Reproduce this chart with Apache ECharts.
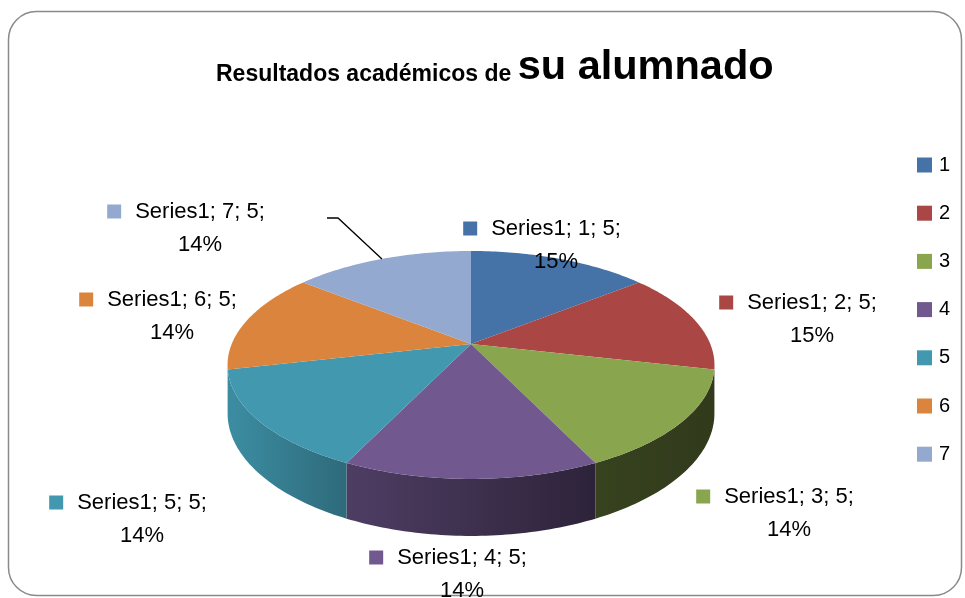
<!DOCTYPE html>
<html>
<head>
<meta charset="utf-8">
<script src="https://cdn.jsdelivr.net/npm/echarts@6/dist/echarts.min.js"></script>
<style>
    html, body { margin: 0; padding: 0; background: #fff; }
    #main { width: 965px; height: 598px; }
</style>
</head>
<body>
<div id="main"></div>
<script>
// datos del grafico
var seriesName = 'Series1';
var categories = ['1', '2', '3', '4', '5', '6', '7'];
var values = [5, 5, 5, 5, 5, 5, 5];
var pctLabels = ['15%', '15%', '14%', '14%', '14%', '14%', '14%'];
var colors = ['#4572A7', '#AA4643', '#89A54E', '#71588F', '#4198AF', '#DB843D', '#93A9CF'];

(function () {
    var FONT = 'Liberation Sans';
    // tarta 3D: centro, radios, perspectiva, grosor
    var PIE = { cx: 471, cy: 344, a: 239.3, b: 110.1, u: 0.184, t: 46.5 };
    // posicion de las etiquetas (centro del bloque)
    var labelPos = [[542, 245], [798, 319], [775, 513], [448, 574], [128, 519], [158, 316], [186, 228]];
    var leaders = { 6: [[338, 218], [327, 218]] };

    var total = 0;
    for (var i = 0; i < values.length; i++) total += values[i];

    function startAngle(idx) {
        var s = 0;
        for (var k = 0; k < idx; k++) s += values[k];
        return s / total * 360;
    }

    function proj(deg, down) {
        var r = deg * Math.PI / 180;
        var d = 1 + PIE.u * Math.cos(r);
        return [PIE.cx + PIE.a * Math.sin(r) / d, PIE.cy - PIE.b * Math.cos(r) / d + (down ? PIE.t / d : 0)];
    }

    function rim(a0, a1, down) {
        var pts = [];
        var n = Math.max(2, Math.ceil(Math.abs(a1 - a0)));
        for (var k = 0; k <= n; k++) pts.push(proj(a0 + (a1 - a0) * k / n, down));
        return pts;
    }

    function shade(hex, f) {
        var r = parseInt(hex.slice(1, 3), 16), g = parseInt(hex.slice(3, 5), 16), b = parseInt(hex.slice(5, 7), 16);
        return 'rgb(' + Math.round(r * f) + ',' + Math.round(g * f) + ',' + Math.round(b * f) + ')';
    }

    var silo = Math.acos(-PIE.u) * 180 / Math.PI;
    var sihi = 360 - silo;

    function renderSlice(idx) {
        return function (params, api) {
            var a0 = startAngle(idx);
            var a1 = a0 + values[idx] / total * 360;
            var color = colors[idx];
            var children = [];

            // lateral
            var lo = Math.max(a0, silo), hi = Math.min(a1, sihi);
            if (hi > lo) {
                var side = rim(lo, hi, false).concat(rim(hi, lo, true));
                children.push({
                    type: 'polygon',
                    z2: 1,
                    shape: { points: side },
                    style: {
                        fill: new echarts.graphic.LinearGradient(PIE.cx - PIE.a, 0, PIE.cx + PIE.a, 0, [
                            { offset: 0, color: shade(color, 0.92) },
                            { offset: 0.25, color: shade(color, 0.69) },
                            { offset: 0.76, color: shade(color, 0.4) },
                            { offset: 1, color: shade(color, 0.36) }
                        ], true)
                    }
                });
            }

            // cara superior
            var top = [[PIE.cx, PIE.cy]].concat(rim(a0, a1, false));
            children.push({
                type: 'polygon',
                z2: 2,
                shape: { points: top },
                style: { fill: color }
            });

            // etiqueta
            var pos = labelPos[idx];
            var line1 = seriesName + '; ' + categories[idx] + '; ' + values[idx] + ';';
            children.push({
                type: 'text',
                z2: 50,
                x: pos[0],
                y: pos[1],
                style: {
                    text: '{sq|}{sp|}{t|' + line1 + '}\n{pad|}{t|' + pctLabels[idx] + '}',
                    align: 'center',
                    verticalAlign: 'middle',
                    fill: '#000',
                    fontSize: 22,
                    fontFamily: FONT,
                    rich: {
                        sq: { width: 14, height: 14, backgroundColor: color, lineHeight: 33 },
                        sp: { width: 14, lineHeight: 33 },
                        pad: { width: 28, lineHeight: 33 },
                        t: { fontSize: 22, fontFamily: FONT, fill: '#000', lineHeight: 33 }
                    }
                }
            });

            // linea guia
            if (leaders[idx]) {
                var mid = proj((a0 + a1) / 2, false);
                children.push({
                    type: 'polyline',
                    z2: 40,
                    shape: { points: [mid].concat(leaders[idx]) },
                    style: { stroke: '#000', lineWidth: 1.3, fill: null }
                });
            }

            return { type: 'group', children: children };
        };
    }

    var myChart = echarts.init(document.getElementById('main'));

    var series = [];
    for (var s = 0; s < categories.length; s++) {
        series.push({
            name: categories[s],
            type: 'custom',
            coordinateSystem: 'none',
            itemStyle: { color: colors[s] },
            data: [values[s]],
            renderItem: renderSlice(s)
        });
    }

    var option = {
        animation: false,
        color: colors,
        title: {
            text: '{a|Resultados académicos de }{b|su alumnado}',
            left: 216,
            top: 47,
            padding: 0,
            textStyle: {
                rich: {
                    a: { fontSize: 23, fontWeight: 'bold', fontFamily: FONT, color: '#000', padding: [14, 0, 0, 0] },
                    b: { fontSize: 41.5, fontWeight: 'bold', fontFamily: FONT, color: '#000' }
                }
            }
        },
        legend: {
            orient: 'vertical',
            left: 917,
            top: 155,
            padding: 0,
            itemWidth: 15,
            itemHeight: 15,
            itemGap: 28.2,
            icon: 'rect',
            data: categories,
            textStyle: { fontSize: 20, fontFamily: FONT, color: '#000', padding: [0, 0, 0, 2] }
        },
        graphic: [{
            type: 'rect',
            z: -1,
            shape: { x: 8.5, y: 11.5, width: 953, height: 584, r: 28 },
            style: { fill: 'none', stroke: '#8a8a8a', lineWidth: 1.5 }
        }],
        series: series
    };

    myChart.setOption(option);

    window.addEventListener('resize', function () {
        myChart.resize();
    });
})();
</script>
</body>
</html>
